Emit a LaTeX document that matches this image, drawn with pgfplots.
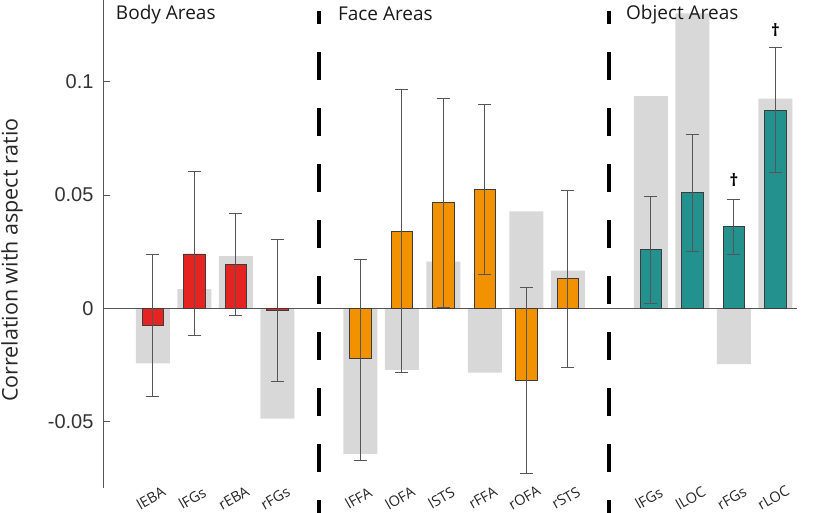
\documentclass[border=0pt]{standalone}
\usepackage{fontspec}
\setmainfont{Open Sans}
\newfontfamily\ticksfont{Liberation Sans}
\usepackage{pgfplots}
\pgfplotsset{compat=1.18}
\usepackage{pgfplotstable}

\definecolor{cred}{HTML}{E52421}
\definecolor{corange}{HTML}{F39200}
\definecolor{cteal}{HTML}{23918D}
\definecolor{cgray}{HTML}{D9D8D8}
\definecolor{cedge}{HTML}{3C3C3C}
\definecolor{cerr}{HTML}{555555}

\pgfplotstableread{
x y gray top bot
1 -0.0077 -0.0242 0.0236 -0.0389
2 0.0240 0.0085 0.0603 -0.0121
3 0.0192 0.0231 0.0418 -0.0032
4 -0.0010 -0.0485 0.0305 -0.0320
}\body
\pgfplotstableread{
x y gray top bot
6 -0.0222 -0.0641 0.0218 -0.0669
7 0.0341 -0.0271 0.0963 -0.0283
8 0.0466 0.0206 0.0926 0.0003
9 0.0525 -0.0283 0.0900 0.0151
10 -0.0318 0.0428 0.0093 -0.0729
11 0.0133 0.0167 0.0522 -0.0258
}\face
\pgfplotstableread{
x y gray top bot
13 0.0258 0.0936 0.0494 0.0023
14 0.0509 0.1300 0.0766 0.0250
15 0.0362 -0.0245 0.0482 0.0239
16 0.0871 0.0924 0.1148 0.0598
}\object

\pgfplotsset{
  graybar/.style={ybar, bar width=0.82, bar shift=0pt, fill=cgray, draw=none, forget plot},
  colbar/.style={ybar, bar width=0.52, bar shift=0pt, fill=#1, draw=cedge, line width=0.9pt, forget plot},
  errb/.style={only marks, mark=*, mark size=0pt, mark options={draw=none, fill=none}, forget plot,
    error bars/.cd, y dir=both, y explicit,
    error bar style={draw=cerr, line width=0.9pt},
    error mark options={rotate=90, draw=cerr, mark size=6.5pt, line width=0.9pt}},
}

\begin{document}
\begin{tikzpicture}
\useasboundingbox (-103pt,-25pt) rectangle (723pt,488pt);
\begin{axis}[
  scale only axis, width=694pt, height=488pt,
  xmin=-0.2, xmax=16.52, ymin=-0.0791, ymax=0.1359,
  clip=false,
  axis y line*=left, axis x line*=bottom,
  x axis line style={draw=none},
  y axis line style={draw=cerr, line width=0.9pt, -},
  tick align=inside, major tick length=7pt,
  ytick style={draw=cerr, line width=0.9pt},
  xtick style={draw=none},
  ytick={-0.05,0,0.05,0.1},
  yticklabels={-0.05,0,0.05,0.1},
  every y tick label/.append style={font=\ticksfont\fontsize{20}{20}\selectfont, text=black!80, xshift=-6pt},
  xtick={1,2,3,4,6,7,8,9,10,11,13,14,15,16},
  xticklabels={lEBA,lFGs,rEBA,rFGs,lFFA,lOFA,lSTS,rFFA,rOFA,rSTS,lFGs,lLOC,rFGs,rLOC},
  xticklabel style={font=\fontsize{14.5}{14.5}\selectfont, text=black!85, anchor=center, inner sep=0pt, xshift=-2pt, yshift=-10pt, rotate=30},
  ylabel={Correlation with aspect ratio},
  ylabel style={at={(rel axis cs:-0.131,0.467)}, anchor=center, font=\fontsize{21.5}{24}\selectfont, text=black!85},
]
\addplot[graybar] table[x=x,y=gray]{\body};
\addplot[graybar] table[x=x,y=gray]{\face};
\addplot[graybar] table[x=x,y=gray]{\object};

\draw[cerr, line width=0.9pt] (axis cs:-0.2,0) -- (axis cs:16.52,0);

\addplot[colbar=cred] table[x=x,y=y]{\body};
\addplot[colbar=corange] table[x=x,y=y]{\face};
\addplot[colbar=cteal] table[x=x,y=y]{\object};

\addplot[errb] table[x=x, y=y, y error plus expr=\thisrow{top}-\thisrow{y}, y error minus expr=\thisrow{y}-\thisrow{bot}]{\body};
\addplot[errb] table[x=x, y=y, y error plus expr=\thisrow{top}-\thisrow{y}, y error minus expr=\thisrow{y}-\thisrow{bot}]{\face};
\addplot[errb] table[x=x, y=y, y error plus expr=\thisrow{top}-\thisrow{y}, y error minus expr=\thisrow{y}-\thisrow{bot}]{\object};

\draw[black, line width=4pt, dash pattern=on 28pt off 28pt, dash phase=15pt] (axis cs:5,0.1311) -- (axis cs:5,-0.092);
\draw[black, line width=4pt, dash pattern=on 28pt off 28pt, dash phase=15pt] (axis cs:12,0.1311) -- (axis cs:12,-0.092);

\node[anchor=west, font=\fontsize{19}{20}\selectfont, text=black!90, inner sep=0pt] at (axis cs:0.108,0.1297) {Body Areas};
\node[anchor=west, font=\fontsize{19}{20}\selectfont, text=black!90, inner sep=0pt] at (axis cs:5.458,0.1297) {Face Areas};
\node[anchor=west, font=\fontsize{19}{20}\selectfont, text=black!90, inner sep=0pt] at (axis cs:12.398,0.1297) {Object Areas};

\node[font=\bfseries\fontsize{17}{18}\selectfont, inner sep=0pt] at (axis cs:15,0.0566) {†};
\node[font=\bfseries\fontsize{17}{18}\selectfont, inner sep=0pt] at (axis cs:16,0.1227) {†};
\end{axis}
\end{tikzpicture}
\end{document}
